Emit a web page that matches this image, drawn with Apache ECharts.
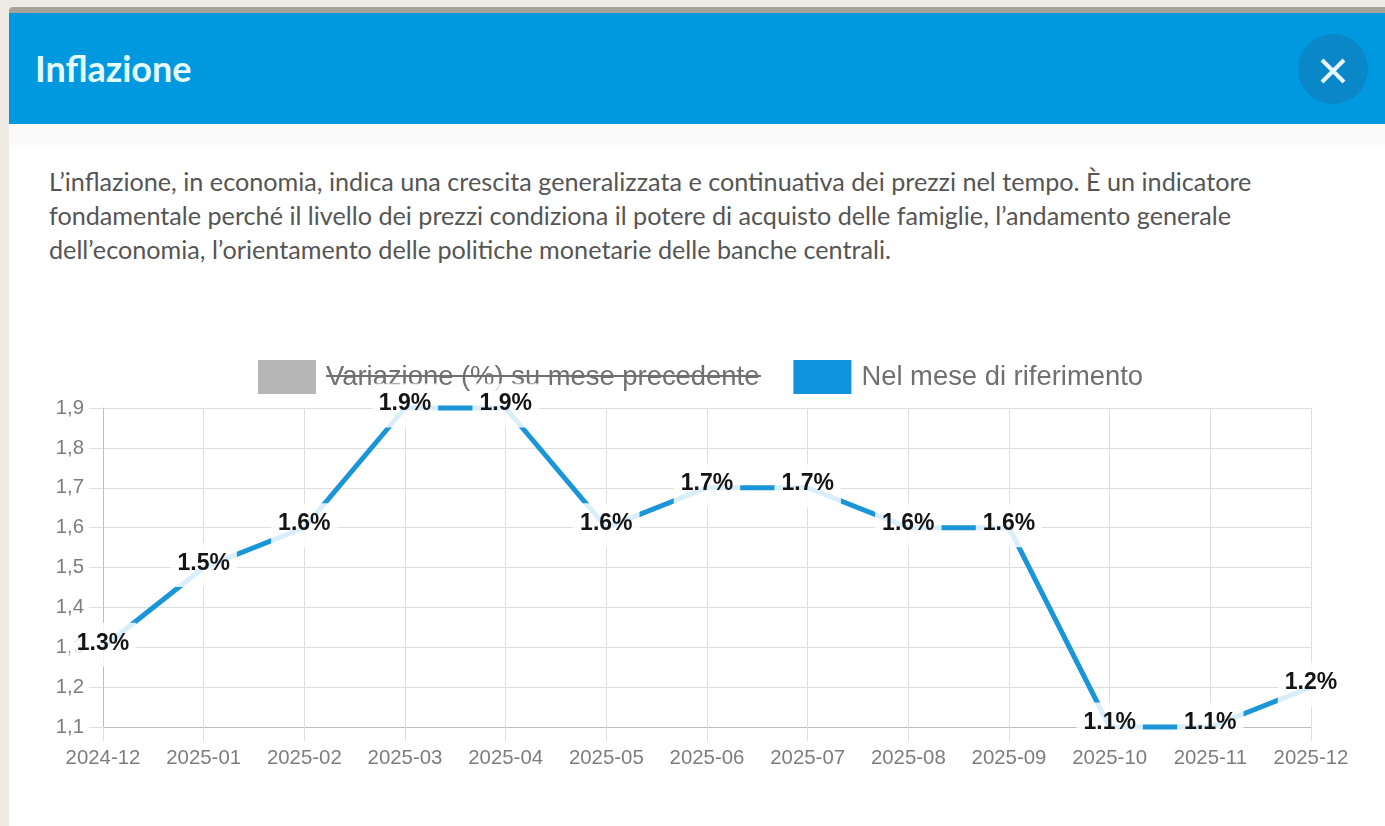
<!DOCTYPE html>
<html lang="it">
<head>
<meta charset="utf-8">
<title>Inflazione</title>
<script src="https://cdn.jsdelivr.net/npm/echarts@6/dist/echarts.min.js"></script>
<style>
  html, body { margin: 0; padding: 0; width: 1385px; height: 826px; overflow: hidden; background: #eeebe4; }
  #strip { position: absolute; left: 9px; top: 7px; width: 1376px; height: 8px; background: #a8a398; border-radius: 4px 0 0 0; }
  #modal { position: absolute; left: 9px; top: 13px; width: 1376px; height: 813px; background: #fff; }
  #head { position: absolute; left: 0; top: 0; width: 100%; height: 111px; background: #0099e0; }
  #head h1 { position: absolute; left: 26px; top: 35px; margin: 0; color: #e6fbfb; font: 700 36px/40px Lato, "Open Sans", sans-serif; }
  #close { position: absolute; left: 1289px; top: 21px; width: 70px; height: 70px; border-radius: 50%; background: #0a87c9; }
  #close svg { position: absolute; left: 21px; top: 23px; }
  #band { position: absolute; left: 0; top: 111px; width: 100%; height: 21px; background: #fafafa; }
  #intro { position: absolute; left: 40px; top: 151px; width: 1300px; margin: 0; color: #555; font: 400 25.2px/34px Lato, "Open Sans", sans-serif; white-space: nowrap; }
  #chart { position: absolute; left: 0; top: 340px; width: 1385px; height: 460px; }
</style>
</head>
<body>
<div id="strip"></div>
<div id="modal">
  <div id="head">
    <h1>Inflazione</h1>
    <div id="close"><svg width="28" height="28" viewBox="0 0 28 28"><path d="M3 3L25 25M25 3L3 25" stroke="#e8f6fc" stroke-width="4" fill="none"/></svg></div>
  </div>
  <div id="band"></div>
  <p id="intro">L’inflazione, in economia, indica una crescita generalizzata e continuativa dei prezzi nel tempo. È un indicatore<br>fondamentale perché il livello dei prezzi condiziona il potere di acquisto delle famiglie, l’andamento generale<br>dell’economia, l’orientamento delle politiche monetarie delle banche centrali.</p>
</div>
<div id="chart"></div>
<script>
  const months = ['2024-12','2025-01','2025-02','2025-03','2025-04','2025-05','2025-06','2025-07','2025-08','2025-09','2025-10','2025-11','2025-12'];
  const inflation = [1.3,1.5,1.6,1.9,1.9,1.6,1.7,1.7,1.6,1.6,1.1,1.1,1.2];
  const monthlyChange = [];
  const hiddenName = 'Variazione (%) su mese precedente';
  const shownName = 'Nel mese di riferimento';

  const gridColor = '#dedede';
  const axisColor = '#bdbdbd';
  const tickText = '#7d7d7d';

  const chart = echarts.init(document.getElementById('chart'), null, { renderer: 'canvas' });
  chart.setOption({
    animation: false,
    backgroundColor: 'transparent',
    legend: {
      z: 1,
      left: 253,
      top: 15,
      itemWidth: 58,
      itemHeight: 34,
      itemGap: 34,
      selectedMode: false,
      textStyle: { fontFamily: 'Liberation Sans', fontSize: 27.4, color: '#707070', padding: [0, 0, 4, 5] },
      data: [
        { name: hiddenName, icon: 'rect', itemStyle: { color: '#b6b6b6' } },
        { name: shownName, icon: 'rect', itemStyle: { color: '#0d94dd' } }
      ]
    },
    grid: { left: 103, right: 74, top: 68, height: 319, containLabel: false },
    xAxis: {
      type: 'category',
      data: months,
      boundaryGap: false,
      axisLine: { lineStyle: { color: axisColor, width: 1 } },
      axisTick: { show: true, length: 14, alignWithLabel: true, lineStyle: { color: gridColor, width: 1 } },
      axisLabel: { interval: 0, margin: 21, color: tickText, fontFamily: 'Liberation Sans', fontSize: 20.4 },
      splitLine: { show: true, lineStyle: { color: gridColor, width: 1 } }
    },
    yAxis: {
      type: 'value',
      min: 1.1,
      max: 1.9,
      interval: 0.1,
      axisLine: { show: true, lineStyle: { color: axisColor, width: 1 } },
      axisTick: { show: true, length: 14, lineStyle: { color: gridColor, width: 1 } },
      axisLabel: {
        margin: 19,
        color: tickText,
        fontFamily: 'Liberation Sans',
        fontSize: 20.4,
        formatter: v => v.toFixed(1).replace('.', ',')
      },
      splitLine: { show: true, lineStyle: { color: gridColor, width: 1 } }
    },
    series: [
      {
        name: hiddenName,
        type: 'line',
        data: monthlyChange,
        itemStyle: { color: '#b6b6b6' }
      },
      {
        name: shownName,
        type: 'line',
        z: 10,
        clip: false,
        data: inflation,
        showSymbol: true,
        symbol: 'circle',
        symbolSize: 1,
        lineStyle: { color: '#1a96d8', width: 5 },
        itemStyle: { color: '#1a96d8' },
        label: {
          show: true,
          position: 'top',
          distance: -20,
          formatter: p => p.value.toFixed(1) + '%',
          fontFamily: 'Liberation Sans',
          fontWeight: 'bold',
          fontSize: 23,
          lineHeight: 23,
          color: '#141414',
          backgroundColor: 'rgba(255,255,255,0.84)',
          padding: [9, 7, 12, 7]
        }
      }
    ],
    graphic: [
      {
        // The switched-off legend entry is shown struck through
        type: 'line',
        z: 2,
        shape: { x1: 326, y1: 36, x2: 761, y2: 36 },
        style: { stroke: '#707070', lineWidth: 2 }
      }
    ]
  });
</script>
</body>
</html>
